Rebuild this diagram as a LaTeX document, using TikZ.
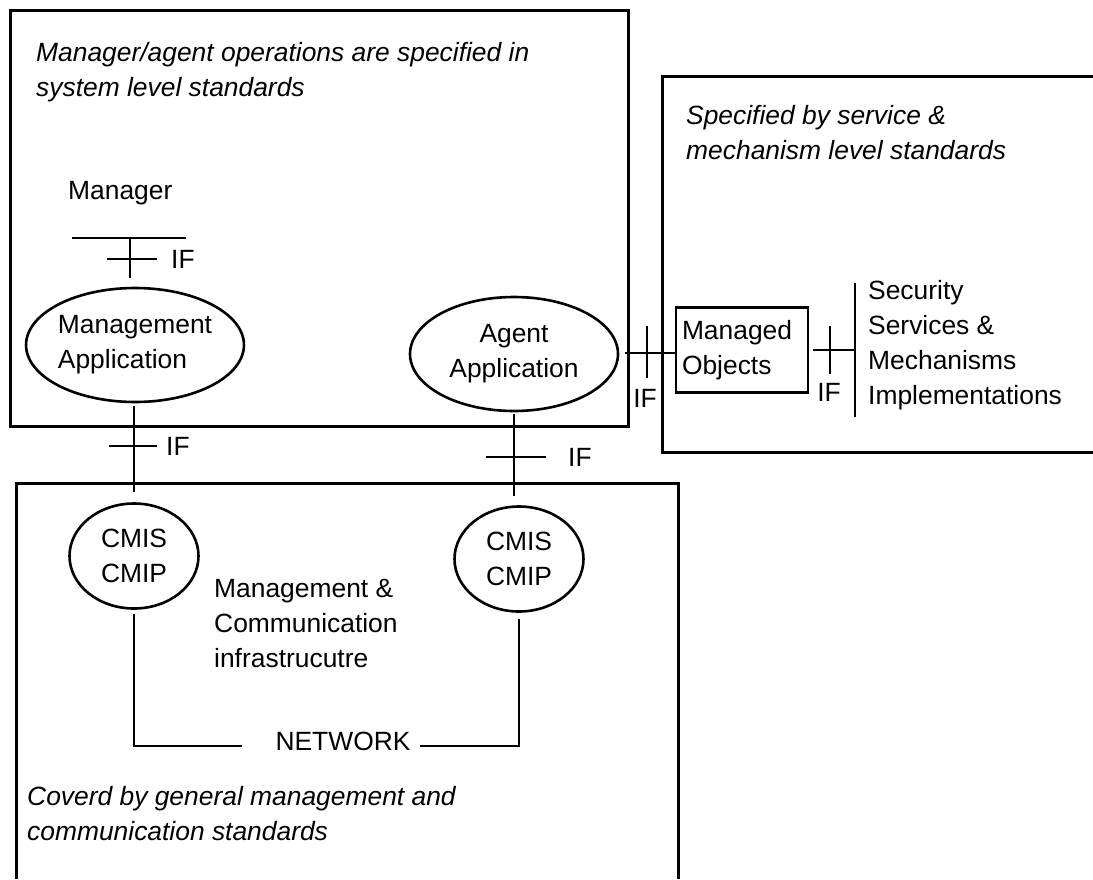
\documentclass[tikz,border=0pt]{standalone}
\usepackage{fontspec}
\setmainfont{Liberation Sans}
\usepackage{tikz}
\usetikzlibrary{calc, shapes.geometric}
\tikzstyle{zone}  = [line width=3pt]
\tikzstyle{wire}  = [line width=2.7pt]
\tikzstyle{app}   = [ellipse, draw=black, line width=2.6pt, minimum width=208pt, minimum height=114pt, inner sep=0pt, align=center, font=\fontsize{26.4}{35}\selectfont]
\tikzstyle{proto} = [ellipse, draw=black, line width=2.6pt, minimum width=129pt, minimum height=105pt, inner sep=0pt, align=center, font=\fontsize{26.4}{35}\selectfont]
\tikzstyle{obj}   = [rectangle, draw=black, line width=2.7pt, minimum width=132pt, minimum height=85pt, inner sep=6pt, text width=120pt, align=left, font=\fontsize{26.4}{35}\selectfont]
\tikzstyle{txt}   = [inner sep=0pt, anchor=west, align=left, font=\fontsize{26.4}{35}\selectfont]
\tikzstyle{note}  = [txt, font={\fontsize{26.4}{35}\selectfont\itshape}]

\begin{document}
\begin{tikzpicture}[x=1pt, y=-1pt]
    \useasboundingbox (0,0) rectangle (1093,879);

    % regions
    \draw [zone] (10,10) rectangle (628,426);
    \draw [zone] (1093,76) -- (662,76) -- (662,452) -- (1093,452);
    \draw [zone] (16,879) -- (16,483) -- (678,483) -- (678,879);

    \node (top)  [note] at (36,72)  {Manager/agent operations are specified in\\system level standards};
    \node (spec) [note] at (686,133) {Specified by service \&\\mechanism level standards};
    \node (gen)  [note] at (27,814)  {Coverd by general management and\\communication standards};

    \node (mgr)  [txt] at (68,193) {Manager};
    \node (ma)   [app, align=left] at (135,345) {Management\\Application};
    \node (aa)   [app] at (514,354) {Agent\\Application};
    \node (mo)   [obj] at (742,350) {Managed\\Objects};
    \node (sec)  [txt] at (868,345) {Security\\Services \&\\Mechanisms\\Implementations};
    \node (cmisL) [proto] at (134,556) {CMIS\\CMIP};
    \node (cmisR) [proto] at (519,559) {CMIS\\CMIP};
    \node (infra) [txt] at (214,623) {Management \&\\Communication\\infrastrucutre};
    \node (net)  [txt, anchor=center] at (343,741) {NETWORK};

    \coordinate (mbar) at (130,238);
    \coordinate (bar)  at (855,350);

    % manager interface
    \draw [wire] ([xshift=-58pt]mbar) -- ([xshift=56pt]mbar);
    \draw [wire] (mbar) -- (mbar |- 0,278);
    \draw [wire] (107,259) -- (157,259);
    \node (if1) [txt] at (171,259) {IF};

    % application to protocol
    \draw [wire] ([yshift=-3pt]ma.south -| cmisL) -- ([yshift=10pt]cmisL.north);
    \draw [wire] (109,446) -- (157,446);
    \node (if2) [txt] at (166,446) {IF};
    \draw [wire] ([yshift=-2pt]aa.south) -- ([yshift=9pt]aa.south |- cmisR.north);
    \draw [wire] (486,457) -- (546,457);
    \node (if3) [txt] at (568,457) {IF};

    % agent to managed objects to security
    \draw [wire] ([xshift=6pt,yshift=1pt]aa.east) -- ([yshift=1pt]aa.east -| mo.west);
    \draw [wire] (647,326) -- (647,378);
    \node (if4) [txt, anchor=center] at (645,398) {IF};
    \draw [wire] ([xshift=4pt]mo.east) -- (bar);
    \draw [wire] (830,326) -- (830,374);
    \node (if5) [txt, anchor=center] at (829,392) {IF};
    \draw [wire] (bar |- 0,283) -- (bar |- 0,417);

    % network
    \draw [wire] ([yshift=-4pt]cmisL.south) |- ([xshift=-33pt,yshift=-5pt]net.west);
    \draw [wire] ([xshift=9pt,yshift=-5pt]net.east) -| ([yshift=-6pt]cmisR.south);
\end{tikzpicture}
\end{document}
